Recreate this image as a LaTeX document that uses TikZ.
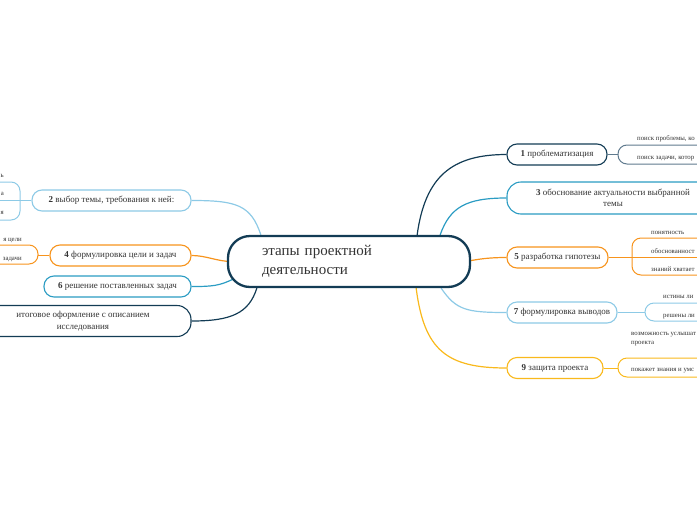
\documentclass[tikz,border=0pt]{standalone}
\usepackage{fontspec}
\setmainfont{Liberation Serif}
\usetikzlibrary{calc,backgrounds}
\definecolor{navy}{HTML}{133C55}
\definecolor{tealb}{HTML}{2B9CC3}
\definecolor{lblue}{HTML}{8DCAE6}
\definecolor{orng}{HTML}{F7941D}
\definecolor{yell}{HTML}{F9B91C}
\definecolor{grayblue}{HTML}{5F7A8E}
\definecolor{txt}{HTML}{333333}
\begin{document}
\begin{tikzpicture}[x=1pt,y=-1pt,
  branch/.style={draw=#1, line width=1.1pt, fill=white, rounded corners=10pt,
    font=\fontsize{9}{11.5}\selectfont, text=txt, inner sep=0pt,
    minimum height=21pt, align=center},
  leaf/.style={font=\fontsize{6.8}{9}\selectfont, text=txt, inner sep=0pt, anchor=base west, align=left},
  leafl/.style={font=\fontsize{6.8}{9}\selectfont, text=txt, inner sep=0pt, anchor=base east},
  link/.style={draw=#1, line width=1.2pt},
  bracket/.style={draw=#1, line width=1pt, rounded corners=9pt},
]
\useasboundingbox (0,0) rectangle (697,520);
\clip (0,0) rectangle (697,520);

% root
\node[draw=navy, line width=2.3pt, fill=white, rounded corners=22pt,
  minimum width=242pt, minimum height=51pt, inner xsep=34pt, inner ysep=0pt,
  text width=174pt, align=left, font=\fontsize{15}{19}\selectfont, text=txt]
  (root) at (349,261.5) {этапы проектной\\деятельности};

% right branches
\node[branch=navy, minimum width=100pt] (b1) at (557,154.5) {\textbf{1} проблематизация};
\node[branch=tealb, minimum width=212pt, minimum height=32pt, rounded corners=14pt] (b3) at (613,198) {\textbf{3} обоснование актуальности выбранной\\темы};
\node[branch=orng, minimum width=101pt] (b5) at (557.5,257.5) {\textbf{5} разработка гипотезы};
\node[branch=lblue, minimum width=110pt] (b7) at (562,312.5) {\textbf{7} формулировка выводов};
\node[branch=yell, minimum width=96pt] (b9) at (555,368) {\textbf{9} защита проекта};

% left branches
\node[branch=lblue, minimum width=159pt] (b2) at (111.5,200.5) {\textbf{2} выбор темы, требования к ней:};
\node[branch=orng, minimum width=141pt] (b4) at (120.5,255.5) {\textbf{4} формулировка цели и задач};
\node[branch=tealb, minimum width=147pt] (b6) at (117.5,286.5) {\textbf{6} решение поставленных задач};
\node[branch=navy, minimum width=216pt, minimum height=31pt, rounded corners=14pt] (b8) at (83,321) {итоговое оформление с описанием\\исследования};

% connectors from root
\begin{pgfonlayer}{background}
\coordinate (s1) at ($(root.north east)+(-54,0)$);
\coordinate (s3) at ($(root.north east)+(-31,0)$);
\coordinate (s7) at ($(root.south east)+(-30,0)$);
\coordinate (s9) at ($(root.south east)+(-55,0)$);
\coordinate (s2) at ($(root.north west)+(34,0)$);
\coordinate (s6) at ($(root.south west)+(8,-10)$);
\coordinate (s8) at ($(root.south west)+(30,0)$);
\draw[link=navy] (s1) .. controls +(8,-58) and +(-55,0) .. (b1.west);
\draw[link=tealb] (s3) .. controls +(10,-28) and +(-40,0) .. (b3.west);
\draw[link=orng] ($(root.east)+(-5,0)$) .. controls +(15,-3) and +(-15,0) .. (b5.west);
\draw[link=lblue] (s7) .. controls +(15,22) and +(-40,0) .. (b7.west);
\draw[link=yell] (s9) .. controls +(8,62) and +(-60,0) .. (b9.west);
\draw[link=lblue] (s2) .. controls +(-10,-30) and +(45,0) .. (b2.east);
\draw[link=orng] ($(root.west)+(5,0)$) .. controls +(-15,0) and +(15,0) .. (b4.east);
\draw[link=tealb] (s6) .. controls +(-15,8) and +(20,0) .. (b6.east);
\draw[link=navy] (s8) .. controls +(-8,25) and +(40,0) .. (b8.east);
\end{pgfonlayer}

% leaves of 1
\coordinate (k1) at (618,154.5);
\draw[bracket=grayblue] (705,145) -- (618,145) -- (618,164) -- (705,164);
\draw[draw=grayblue, line width=1pt] (b1.east) -- (k1);
\node[leaf] (l11) at (637,140.5) {поиск проблемы, ко};
\node[leaf] (l12) at (637,159.5) {поиск задачи, котор};

% leaves of 5
\coordinate (k5) at (632,257.5);
\draw[bracket=orng] (705,238) -- (632,238) -- (632,275) -- (705,275);
\draw[draw=orng, line width=1pt] (b5.east) -- (k5) -- (705,257.5);
\node[leaf] (l51) at (651,234) {понятность};
\node[leaf] (l52) at (651,253) {обоснованност};
\node[leaf] (l53) at (651,271) {знаний хватает};

% leaves of 7
\coordinate (k7) at (645,312.5);
\draw[bracket=lblue] (705,303) -- (645,303) -- (645,321) -- (705,321);
\draw[draw=lblue, line width=1pt] (b7.east) -- (k7);
\node[leaf] (l71) at (663,298.5) {истины ли};
\node[leaf] (l72) at (663,317) {решены ли};

% leaves of 9
\coordinate (k9) at (618,368);
\draw[bracket=yell] (705,358) -- (618,358) -- (618,377) -- (705,377);
\draw[draw=yell, line width=1pt] (b9.east) -- (k9);
\node[leaf] (l91) at (631,344) {возможность услышат\\проекта};
\node[leaf] (l92) at (631,371.5) {покажет знания и умс};

% leaves of 2
\coordinate (k2) at (20,200.5);
\draw[bracket=lblue] (-8,182) -- (20,182) -- (20,220) -- (-8,220);
\draw[draw=lblue, line width=1pt] (-8,200.5) -- (k2) -- (b2.west);
\node[leafl] (l21) at (4,177) {ь};
\node[leafl] (l22) at (4,195.5) {а};
\node[leafl] (l23) at (4,214.5) {я};

% leaves of 4
\coordinate (k4) at (38,255.5);
\draw[bracket=orng] (-8,245) -- (38,245) -- (38,264) -- (-8,264);
\draw[draw=orng, line width=1pt] (k4) -- (b4.west);
\node[leafl] (l41) at (22,241) {я цели};
\node[leafl] (l42) at (22,260) {задачи};
\end{tikzpicture}
\end{document}
